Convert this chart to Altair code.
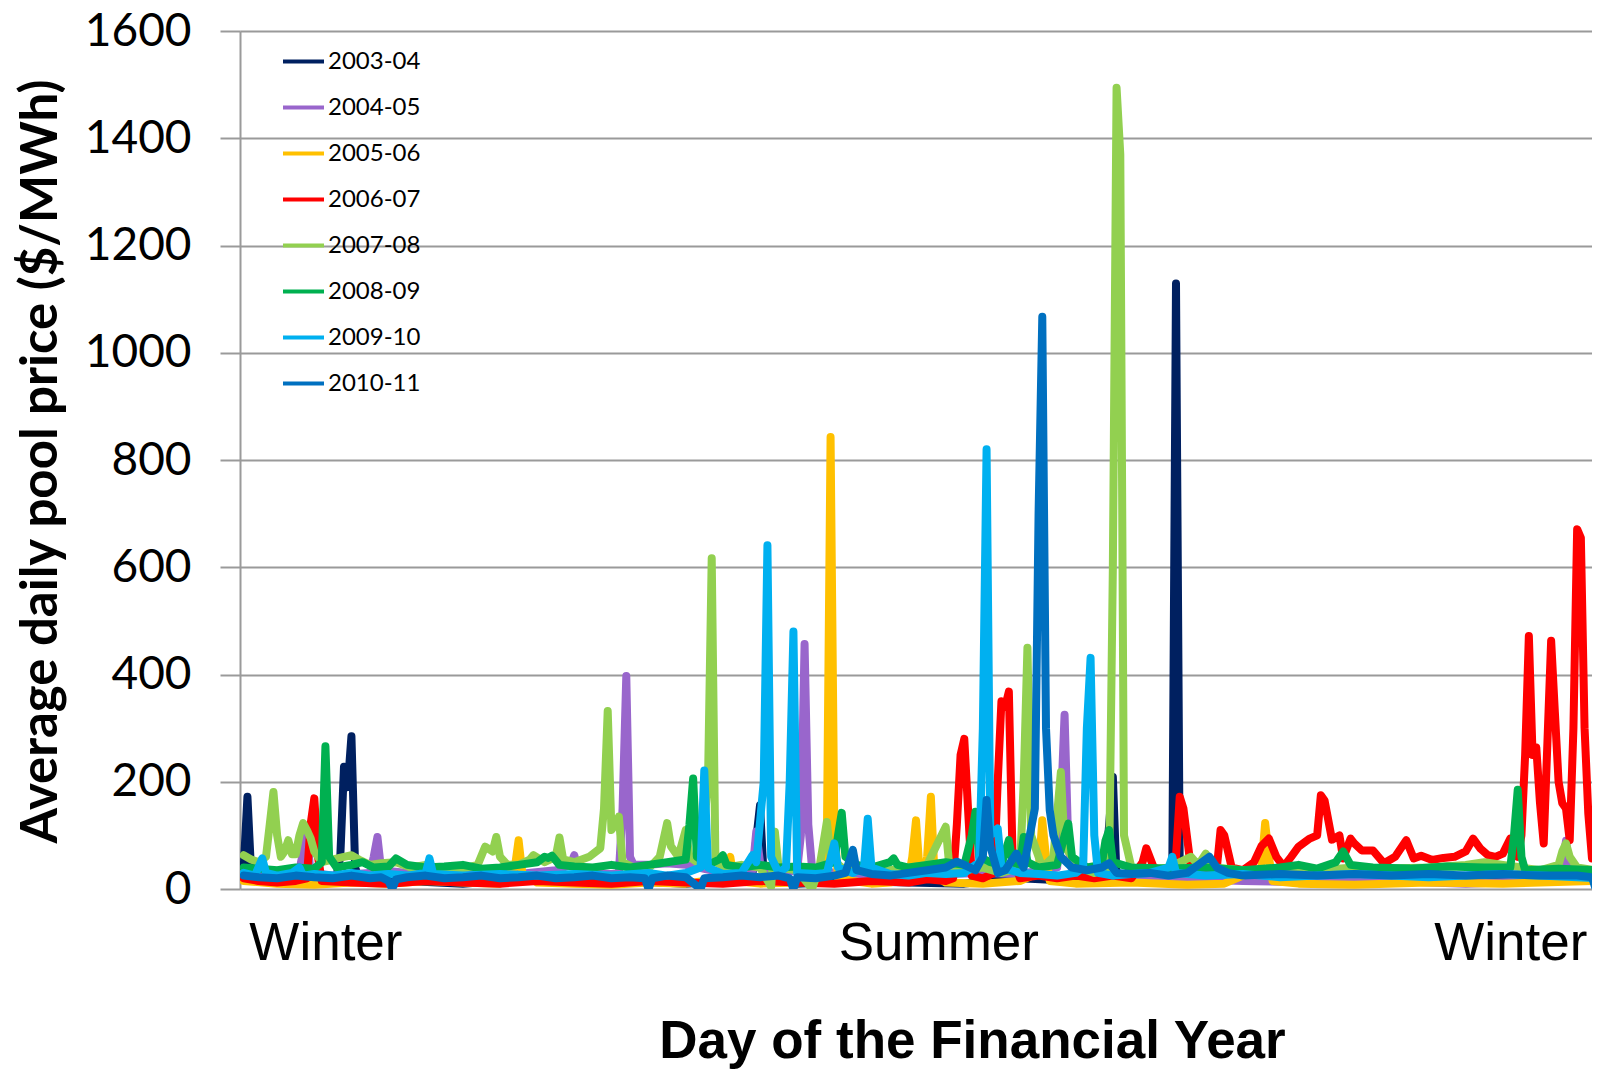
import altair as alt
import pandas as pd

SERIES = ["2003-04", "2004-05", "2005-06", "2006-07", "2007-08", "2008-09", "2009-10", "2010-11"]
COLORS = ["#002060", "#9966CC", "#FFC000", "#FF0000", "#92D050", "#00B050", "#00B0F0", "#0070C0"]

s2003 = [(1, 40), (2, 172), (3, 30), (5, 18), (10, 15), (15, 12), (20, 20), (26, 25), (27, 60), (28, 228),
         (29, 190), (30, 285), (31, 40), (32, 20), (35, 20), (45, 15), (60, 10), (75, 18), (90, 12), (105, 15),
         (120, 10), (135, 18), (138, 30), (140, 156), (141, 20), (150, 10), (165, 15), (180, 12), (195, 10),
         (210, 20), (225, 15), (233, 30), (235, 209), (236, 20), (245, 15), (251, 30), (252, 1129), (253, 40),
         (254, 20), (256, 15), (270, 18), (290, 12), (310, 15), (330, 18), (350, 20), (365, 25)]

s2004 = [(1, 30), (5, 25), (10, 30), (16, 35), (17, 70), (18, 100), (19, 30), (25, 25), (35, 30), (36, 60),
         (37, 97), (38, 35), (45, 30), (55, 25), (65, 30), (75, 28), (85, 35), (89, 45), (90, 63), (91, 35),
         (95, 30), (100, 28), (102, 30), (103, 150), (104, 397), (105, 60), (106, 45), (110, 45), (115, 48),
         (120, 45), (130, 30), (138, 35), (139, 107), (140, 50), (141, 35), (145, 30), (150, 35), (151, 100),
         (152, 457), (153, 120), (154, 40), (160, 30), (170, 25), (180, 30), (190, 28), (200, 30), (210, 28),
         (220, 40), (221, 150), (222, 325), (223, 80), (224, 35), (235, 25), (250, 20), (270, 15), (290, 12),
         (310, 15), (330, 10), (350, 15), (356, 40), (357, 90), (358, 30), (365, 20)]

s2005 = [(1, 15), (10, 10), (20, 8), (30, 12), (40, 10), (50, 15), (60, 12), (70, 10), (74, 40), (75, 91),
         (76, 30), (80, 12), (90, 10), (100, 8), (110, 12), (120, 10), (130, 20), (131, 45), (132, 60), (133, 15),
         (140, 10), (150, 12), (157, 15), (158, 90), (159, 843), (160, 120), (161, 20), (165, 15), (170, 10),
         (175, 12), (180, 20), (181, 60), (182, 128), (183, 30), (184, 20), (185, 60), (186, 172), (187, 25),
         (190, 12), (200, 10), (210, 15), (215, 30), (216, 128), (217, 60), (218, 15), (225, 10), (240, 12),
         (255, 8), (265, 10), (275, 40), (276, 123), (277, 60), (278, 15), (285, 10), (300, 8), (320, 12),
         (340, 10), (365, 15)]

s2006 = [(1, 20), (5, 15), (10, 12), (15, 15), (18, 20), (19, 120), (20, 169), (21, 60), (22, 15), (30, 12),
         (40, 10), (50, 15), (60, 12), (70, 10), (80, 15), (90, 12), (100, 10), (110, 15), (120, 12), (130, 10),
         (140, 15), (150, 12), (160, 10), (170, 15), (180, 12), (185, 18), (190, 15), (192, 20), (193, 120),
         (194, 250), (195, 280), (196, 150), (197, 25), (200, 20), (203, 30), (204, 200), (205, 350), (206, 340),
         (207, 368), (208, 60), (210, 20), (215, 25), (220, 20), (225, 25), (230, 20), (235, 25), (240, 20),
         (243, 50), (244, 76), (246, 40), (250, 30), (252, 60), (253, 172), (254, 150), (256, 40), (260, 35),
         (263, 40), (264, 110), (265, 100), (267, 40), (270, 35), (273, 50), (275, 80), (277, 94), (279, 60),
         (281, 42), (283, 60), (285, 79), (288, 94), (290, 100), (291, 175), (292, 165), (294, 92), (296, 100),
         (297, 57), (299, 94), (300, 85), (302, 72), (305, 72), (308, 48), (311, 60), (314, 91), (316, 57),
         (318, 62), (321, 54), (324, 58), (327, 60), (330, 70), (332, 94), (334, 75), (336, 63), (338, 60),
         (340, 66), (342, 94), (343, 80), (344, 60), (345, 100), (346, 250), (347, 472), (348, 250), (349, 264),
         (350, 160), (351, 85), (353, 463), (354, 330), (355, 200), (356, 160), (357, 150), (358, 91), (359, 300),
         (360, 671), (361, 655), (362, 300), (363, 141), (364, 57), (365, 63)]

s2007 = [(1, 63), (3, 55), (5, 50), (7, 60), (8, 120), (9, 181), (10, 100), (11, 60), (12, 70), (13, 91),
         (14, 65), (15, 65), (16, 100), (17, 123), (18, 110), (19, 95), (20, 70), (22, 50), (25, 55), (28, 60),
         (30, 63), (32, 55), (35, 45), (38, 48), (42, 50), (46, 40), (50, 45), (55, 35), (60, 38), (64, 45),
         (66, 79), (68, 70), (69, 97), (70, 60), (72, 45), (75, 45), (78, 55), (79, 63), (82, 50), (85, 60),
         (86, 96), (87, 55), (90, 50), (94, 60), (97, 76), (98, 150), (99, 332), (100, 110), (101, 120),
         (102, 135), (103, 50), (106, 40), (110, 38), (113, 60), (115, 123), (116, 80), (118, 60), (120, 110),
         (121, 60), (124, 45), (126, 200), (127, 617), (128, 50), (131, 40), (135, 45), (140, 40), (143, 4),
         (144, 107), (145, 40), (150, 35), (154, 0), (156, 40), (158, 125), (159, 60), (162, 40), (166, 35),
         (170, 30), (175, 35), (180, 40), (185, 45), (190, 116), (191, 40), (195, 35), (200, 40), (205, 30),
         (210, 40), (211, 200), (212, 450), (213, 100), (216, 40), (219, 60), (221, 218), (222, 80), (226, 40),
         (230, 30), (234, 40), (235, 600), (236, 1494), (237, 1370), (238, 100), (240, 40), (245, 35), (250, 40),
         (256, 60), (258, 45), (260, 66), (262, 40), (270, 35), (280, 30), (290, 35), (300, 40), (310, 38),
         (320, 40), (330, 45), (335, 50), (340, 45), (345, 40), (350, 35), (355, 45), (356, 70), (357, 85),
         (358, 60), (360, 40), (365, 35)]

s2008 = [(1, 40), (5, 38), (10, 35), (15, 40), (20, 38), (22, 50), (23, 266), (24, 60), (26, 40), (30, 45),
         (33, 50), (36, 40), (40, 42), (42, 57), (45, 45), (50, 40), (55, 42), (60, 45), (65, 38), (70, 40),
         (75, 45), (80, 50), (82, 60), (83, 58), (84, 62), (86, 45), (90, 42), (95, 40), (100, 45), (105, 40),
         (110, 45), (115, 50), (120, 55), (121, 120), (122, 206), (123, 60), (126, 45), (129, 55), (130, 63),
         (131, 45), (135, 40), (140, 45), (145, 40), (150, 42), (155, 40), (160, 50), (161, 100), (162, 142),
         (163, 60), (166, 45), (170, 40), (175, 50), (176, 57), (177, 45), (180, 40), (185, 45), (190, 50),
         (195, 45), (197, 100), (198, 144), (199, 60), (202, 50), (205, 45), (207, 91), (208, 50), (210, 45),
         (211, 97), (212, 50), (215, 40), (220, 45), (222, 100), (223, 122), (224, 60), (228, 40), (232, 45),
         (233, 90), (234, 110), (235, 50), (240, 40), (250, 38), (260, 40), (270, 35), (280, 40), (285, 45),
         (290, 38), (295, 50), (297, 70), (299, 45), (305, 40), (315, 38), (325, 42), (335, 40), (342, 40),
         (343, 100), (344, 185), (345, 60), (346, 35), (355, 38), (365, 35)]

s2009 = [(1, 30), (4, 25), (6, 57), (7, 30), (10, 25), (14, 30), (16, 40), (17, 25), (20, 28), (25, 25),
         (30, 30), (35, 25), (40, 28), (45, 25), (50, 30), (51, 57), (52, 28), (60, 25), (70, 28), (80, 25),
         (90, 28), (100, 25), (110, 30), (115, 25), (120, 30), (124, 40), (125, 221), (126, 40), (130, 28),
         (135, 30), (138, 63), (139, 50), (141, 200), (142, 641), (143, 60), (145, 30), (147, 40), (148, 200),
         (149, 480), (150, 30), (155, 28), (158, 30), (160, 85), (161, 40), (165, 30), (168, 40), (169, 131),
         (170, 40), (175, 28), (180, 25), (185, 30), (190, 28), (195, 30), (199, 50), (200, 300), (201, 820),
         (202, 100), (204, 113), (205, 40), (210, 30), (215, 28), (220, 25), (225, 30), (227, 40), (228, 300),
         (229, 431), (230, 100), (231, 30), (235, 25), (240, 28), (245, 30), (250, 40), (251, 60), (252, 30),
         (260, 25), (270, 28), (280, 22), (290, 25), (300, 28), (310, 25), (320, 22), (330, 25), (340, 28),
         (350, 25), (360, 22), (365, 20)]

s2010 = [(1, 25), (5, 22), (10, 20), (15, 25), (20, 22), (25, 20), (30, 25), (35, 20), (38, 22), (40, 15),
         (41, 0), (42, 18), (45, 22), (50, 25), (55, 20), (60, 22), (65, 25), (70, 20), (75, 22), (80, 25),
         (85, 20), (90, 22), (95, 25), (100, 20), (105, 22), (109, 20), (110, 0), (111, 20), (115, 25), (120, 22),
         (124, 0), (125, 20), (130, 22), (135, 25), (140, 22), (145, 25), (148, 20), (149, 0), (150, 22),
         (155, 20), (160, 25), (163, 30), (165, 73), (166, 35), (170, 28), (175, 25), (180, 30), (185, 35),
         (190, 40), (193, 51), (195, 45), (198, 35), (200, 60), (201, 166), (202, 80), (204, 30), (206, 35),
         (209, 66), (211, 40), (214, 150), (215, 700), (216, 1067), (217, 300), (218, 147),
         (219, 100), (221, 60), (224, 40), (228, 35), (232, 40), (234, 48), (236, 30), (240, 28), (245, 30),
         (250, 25), (255, 30), (261, 60), (263, 40), (266, 30), (270, 25), (280, 28), (290, 25), (300, 28),
         (310, 25), (320, 28), (330, 25), (340, 28), (350, 25), (360, 25), (364, 22), (365, 0)]

ALL = [s2003, s2004, s2005, s2006, s2007, s2008, s2009, s2010]

X_LABEL_DAYS = [23, 188, 342]
X_LABELS = ["Winter", "Summer", "Winter"]
Y_TICKS = [0, 200, 400, 600, 800, 1000, 1200, 1400, 1600]

rows = []
for name, pts in zip(SERIES, ALL):
    for d, v in pts:
        rows.append({"series": name, "day": d, "price": v})
df = pd.DataFrame(rows)

GRAY = "#9a9a9a"

label_expr = " : ".join(
    [f"datum.value == {d} ? '{t}'" for d, t in zip(X_LABEL_DAYS, X_LABELS)]
) + " : ''"

x = alt.X(
    "day:Q",
    scale=alt.Scale(domain=[0, 364], nice=False, zero=False),
    axis=alt.Axis(
        values=X_LABEL_DAYS, labelExpr=label_expr, grid=False, domain=False, ticks=False,
        labelFont="Liberation Sans", labelFontSize=53, labelColor="black", labelPadding=28,
        labelFlush=False, labelOverlap=False, labelLimit=0,
        title="Day of the Financial Year", titleFont="Liberation Sans", titleFontSize=53,
        titleFontWeight="bold", titleColor="black", titleX=732, titleY=168, titleAlign="center",
        titleBaseline="alphabetic", titleLimit=0,
    ),
)
y = alt.Y(
    "price:Q",
    scale=alt.Scale(domain=[0, 1600], nice=False),
    axis=alt.Axis(
        values=Y_TICKS, format="d", grid=True, gridColor=GRAY, gridWidth=2, domainColor=GRAY,
        domainWidth=2, tickColor=GRAY, tickWidth=2, tickSize=20, labelFont="Lato", labelFontSize=46,
        labelColor="black", labelPadding=29,
        title="Average daily pool price ($/MWh)", titleFont="Lato", titleFontSize=51,
        titleFontWeight="bold", titleColor="black", titleX=-199, titleY=430, titleAngle=270,
        titleAlign="center", titleBaseline="middle", titleLimit=0,
    ),
)
color = alt.Color(
    "series:N",
    scale=alt.Scale(domain=SERIES, range=COLORS),
    legend=alt.Legend(
        title=None, orient="none", legendX=41, legendY=8, symbolType="stroke", symbolSize=1681,
        symbolStrokeWidth=4, labelFont="Lato", labelFontSize=24, labelColor="black", rowPadding=11,
        labelOffset=2, padding=0,
    ),
)

layers = []
for s in SERIES:
    layers.append(
        alt.Chart(df)
        .transform_filter(alt.datum.series == s)
        .mark_line(strokeWidth=8, strokeJoin="round", strokeCap="round", clip=True)
        .encode(x=x, y=y, color=color)
    )

chart = (
    alt.layer(*layers)
    .properties(
        width=1352, height=858, autosize="none",
        padding={"left": 232, "top": 23, "right": 0, "bottom": 180},
    )
    .configure_view(stroke=None)
)

chart.save("out.html", embed_options={"renderer": "svg", "actions": False})
